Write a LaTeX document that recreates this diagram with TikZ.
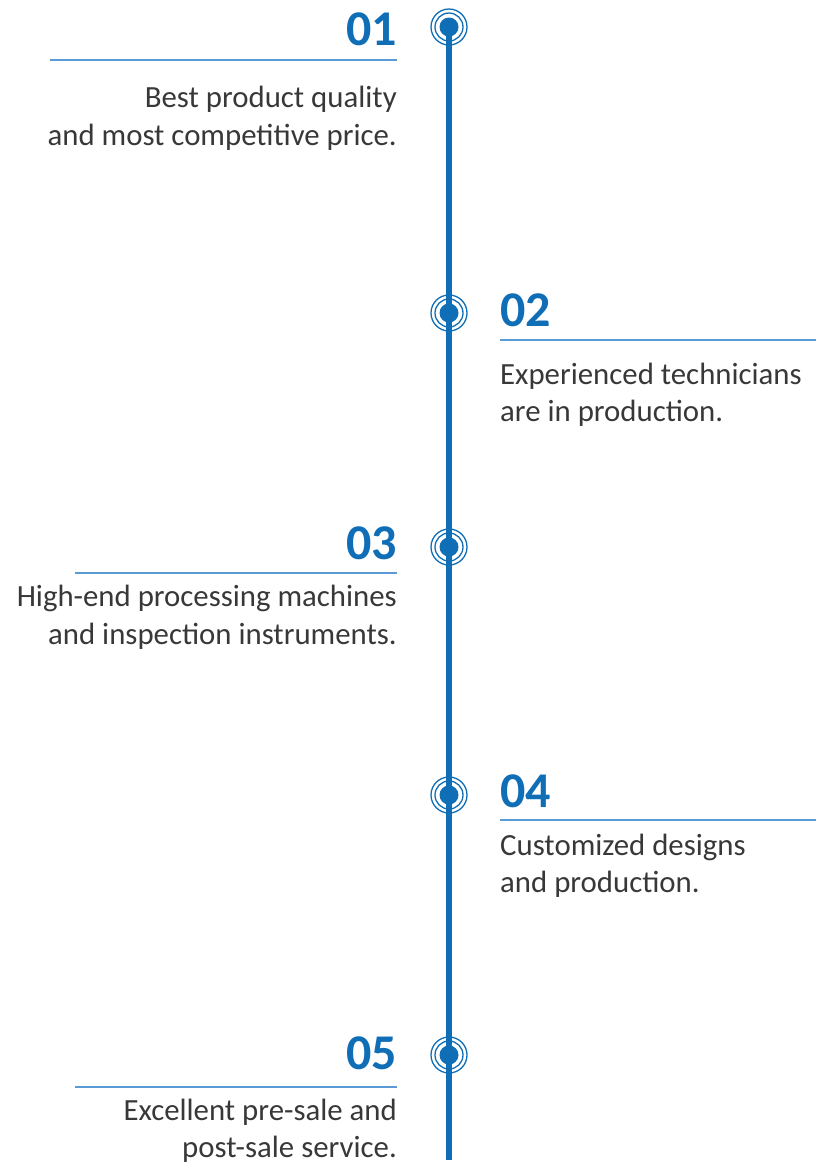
\documentclass[tikz,border=0pt]{standalone}
\usepackage{fontspec}
\setmainfont{Carlito}
\definecolor{mainblue}{HTML}{0F6EB6}
\definecolor{ruleblue}{HTML}{5B9BD5}
\definecolor{txt}{HTML}{383838}
\begin{document}
\begin{tikzpicture}[x=1pt,y=-1pt,
  num/.style={font=\fontsize{50}{50}\selectfont\bfseries, text=mainblue, inner sep=0pt},
  desc/.style={font=\fontsize{30.8}{31}\selectfont, text=txt, inner sep=0pt},
  rulel/.style={draw=ruleblue, line width=2pt},
  dotc/.style={fill=mainblue, draw=none},
  ring/.style={draw=mainblue, line width=1.3pt, fill=none}]
\useasboundingbox (0,0) rectangle (816,1171);
% timeline
\coordinate (top) at (449,27);
\coordinate (bot) at (449,1160);
\draw[mainblue, line width=6.5pt] (top) -- (bot);
% markers
\foreach \n/\y in {1/27,2/313,3/547,4/795,5/1055}{
  \node[circle, dotc, minimum size=19pt, inner sep=0pt] (m\n) at (449,\y) {};
  \node[circle, ring, minimum size=28pt, inner sep=0pt] (ra\n) at (449,\y) {};
  \node[circle, ring, minimum size=36pt, inner sep=0pt] (rb\n) at (449,\y) {};
}
% 01
\node[num, anchor=base east] (n1) at (397,45) {01};
\coordinate (r1a) at (50,60); \coordinate (r1b) at (397,60);
\draw[rulel] (r1a) -- (r1b);
\node[desc, anchor=base east] (d1a) at (397,107) {Best product quality};
\node[desc, anchor=base east] (d1b) at (397,145) {and most competitive price.};
% 02
\node[num, anchor=base west] (n2) at (500,326) {02};
\coordinate (r2a) at (500,340); \coordinate (r2b) at (816,340);
\draw[rulel] (r2a) -- (r2b);
\node[desc, anchor=base west] (d2a) at (500,384) {Experienced technicians};
\node[desc, anchor=base west] (d2b) at (500,421) {are in production.};
% 03
\node[num, anchor=base east] (n3) at (397,559) {03};
\coordinate (r3a) at (75,573); \coordinate (r3b) at (397,573);
\draw[rulel] (r3a) -- (r3b);
\node[desc, anchor=base east] (d3a) at (397,606) {High-end processing machines};
\node[desc, anchor=base east] (d3b) at (397,644) {and inspection instruments.};
% 04
\node[num, anchor=base west] (n4) at (500,807) {04};
\coordinate (r4a) at (500,820); \coordinate (r4b) at (816,820);
\draw[rulel] (r4a) -- (r4b);
\node[desc, anchor=base west] (d4a) at (500,855) {Customized designs};
\node[desc, anchor=base west] (d4b) at (500,892) {and production.};
% 05
\node[num, anchor=base east] (n5) at (397,1069) {05};
\coordinate (r5a) at (75,1087); \coordinate (r5b) at (397,1087);
\draw[rulel] (r5a) -- (r5b);
\node[desc, anchor=base east] (d5a) at (397,1120) {Excellent pre-sale and};
\node[desc, anchor=base east] (d5b) at (397,1157) {post-sale service.};
\end{tikzpicture}
\end{document}
